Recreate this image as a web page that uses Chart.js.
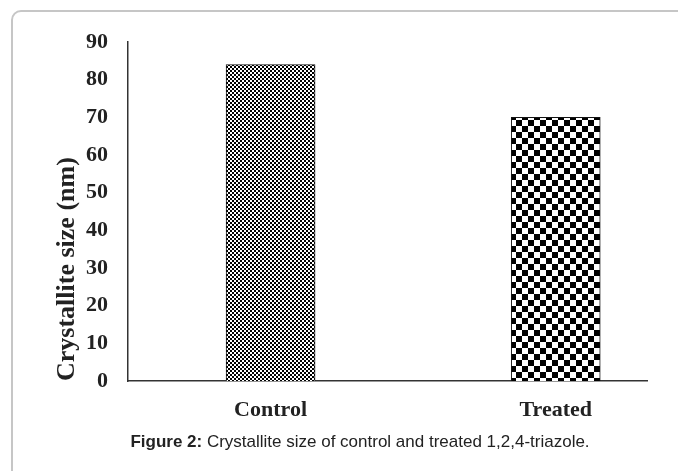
<!DOCTYPE html>
<html lang="en">
<head>
  <meta charset="UTF-8">
  <title>Crystallite size of control and treated 1,2,4-triazole</title>
  <script src="https://cdn.jsdelivr.net/npm/chart.js"></script>
  <style>
    html, body { margin: 0; padding: 0; background: #fff; overflow: hidden; }
    #wrap { position: relative; width: 678px; height: 471px; }
    #frame {
      position: absolute; left: 11px; top: 10px; width: 720px; height: 520px;
      border: 2px solid #c6c6c6; border-radius: 10px; box-sizing: border-box;
    }
    #myChart { position: absolute; left: 0; top: 0; }
    #caption {
      position: absolute; left: 0; top: 432px; width: 720px; text-align: center;
      font-family: "Liberation Sans", Arial, sans-serif; font-size: 17px; color: #222;
    }
  </style>
</head>
<body>
  <div id="wrap">
    <div id="frame"></div>
    <canvas id="myChart" width="678" height="471"></canvas>
    <div id="caption"><b>Figure 2:</b> Crystallite size of control and treated 1,2,4-triazole.</div>
  </div>

  <script>
    // Data
    var categories = ['Control', 'Treated'];
    var sizes = [84, 70];
    var yTicks = [0, 10, 20, 30, 40, 50, 60, 70, 80, 90];

    // checkerboard fills for the bars
    function checker(cell) {
      var c = document.createElement('canvas');
      c.width = cell * 2;
      c.height = cell * 2;
      var g = c.getContext('2d');
      g.fillStyle = '#fff';
      g.fillRect(0, 0, cell * 2, cell * 2);
      g.fillStyle = '#000';
      g.fillRect(0, 0, cell, cell);
      g.fillRect(cell, cell, cell, cell);
      return g.createPattern(c, 'repeat');
    }

    var ctx = document.getElementById('myChart').getContext('2d');
    var serif = 'Liberation Serif';

    var myChart = new Chart(ctx, {
      type: 'bar',
      data: {
        datasets: [{
          data: sizes.map(function (v, i) { return { x: i + 1, y: v }; }),
          backgroundColor: [checker(2), checker(6)],
          borderColor: '#111',
          borderWidth: 1,
          barThickness: 89
        }]
      },
      options: {
        responsive: false,
        animation: false,
        layout: { padding: { left: 0, right: 31, top: 42, bottom: 0 } },
        plugins: {
          legend: { display: false },
          tooltip: { enabled: false }
        },
        scales: {
          x: {
            type: 'linear',
            min: 0.5,
            max: 2.32,
            offset: false,
            grid: { display: false, drawTicks: false, offset: false },
            border: { display: true, color: '#333', width: 1.5 },
            afterFit: function (scale) { scale.height = 90; },
            afterBuildTicks: function (scale) {
              scale.ticks = categories.map(function (c, i) { return { value: i + 1 }; });
            },
            ticks: {
              padding: 16,
              autoSkip: false,
              maxRotation: 0,
              color: '#222',
              font: { family: serif, size: 22, weight: 'bold' },
              callback: function (v) { return categories[v - 1]; }
            }
          },
          y: {
            min: 0,
            max: 90,
            grid: { display: false, drawTicks: false },
            border: { display: true, color: '#333', width: 1.5 },
            afterFit: function (scale) { scale.width = 128; },
            afterBuildTicks: function (scale) {
              scale.ticks = yTicks.map(function (v) { return { value: v }; });
            },
            ticks: {
              padding: 20,
              color: '#222',
              font: { family: serif, size: 22, weight: 'bold' }
            },
            title: {
              display: true,
              text: 'Crystallite size (nm)',
              align: 'start',
              color: '#222',
              padding: { top: 52 },
              font: { family: serif, size: 26, weight: 'bold' }
            }
          }
        }
      }
    });
  </script>
</body>
</html>
